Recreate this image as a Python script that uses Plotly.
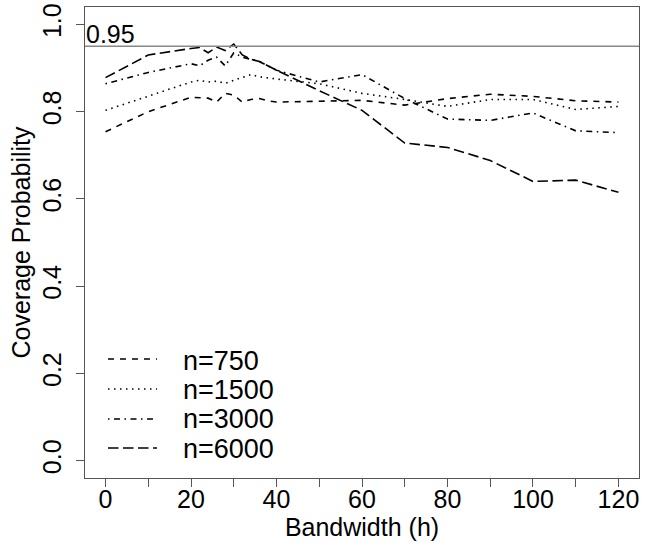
import plotly.graph_objects as go

# ---- data ----
bandwidth = [0, 10, 20, 22, 24, 26, 28, 30, 32, 34, 36, 38, 40, 50, 60, 70, 80, 90, 100, 110, 120]
cov_750 = [0.754, 0.800, 0.833, 0.832, 0.831, 0.822, 0.842, 0.838, 0.822, 0.828, 0.830, 0.825, 0.822,
           0.824, 0.826, 0.815, 0.830, 0.840, 0.835, 0.825, 0.822]
cov_1500 = [0.803, 0.835, 0.868, 0.872, 0.868, 0.870, 0.865, 0.872, 0.878, 0.885, 0.880, 0.878, 0.875,
            0.864, 0.842, 0.828, 0.812, 0.828, 0.828, 0.805, 0.812]
cov_3000 = [0.864, 0.890, 0.910, 0.905, 0.918, 0.925, 0.905, 0.935, 0.925, 0.920, 0.915, 0.905, 0.895,
            0.868, 0.885, 0.830, 0.783, 0.780, 0.797, 0.756, 0.752]
cov_6000 = [0.878, 0.930, 0.945, 0.947, 0.935, 0.948, 0.940, 0.955, 0.930, 0.920, 0.915, 0.905, 0.895,
            0.848, 0.803, 0.728, 0.718, 0.688, 0.640, 0.643, 0.615]
series_names = ["n=750", "n=1500", "n=3000", "n=6000"]
x_ticks = [0, 10, 20, 30, 40, 50, 60, 70, 80, 90, 100, 110, 120]
x_ticktext = ["0", "", "20", "", "40", "", "60", "", "80", "", "100", "", "120"]
y_ticks = [0.0, 0.2, 0.4, 0.6, 0.8, 1.0]
y_ticktext = ["0.0", "0.2", "0.4", "0.6", "0.8", "1.0"]
ref_level = 0.95

series = [cov_750, cov_1500, cov_3000, cov_6000]
dashes = ["6px,6px", "1.5px,4.5px", "1.5px,4.5px,6px,4.5px", "10.5px,4.5px"]

W, H = 647, 543
L, R, T, B = 85, 8, 7, 65
pw, ph = W - L - R, H - T - B
FONT = "Liberation Sans, Arial, sans-serif"
FS = 25
LEG_FS = 27
AX = "#555555"

fig = go.Figure()
for name, ys, d in zip(series_names, series, dashes):
    fig.add_trace(go.Scatter(x=bandwidth, y=ys, mode="lines", name=name, showlegend=False,
                             line=dict(color="black", width=1.6, dash=d)))

# reference line
fig.add_shape(type="line", xref="paper", yref="y", x0=0, x1=1, y0=ref_level, y1=ref_level,
              line=dict(color="#888888", width=1.3))
fig.add_annotation(xref="paper", yref="y", x=0.0, y=ref_level, text="0.95", showarrow=False,
                   xanchor="left", yanchor="bottom", yshift=-4, xshift=-1,
                   font=dict(size=FS, color="black", family=FONT))

# manual legend (pixel positions -> paper coords)
def px_x(p):
    return (p - L) / pw

def px_y(p):
    return (H - B - p) / ph

line_rows = [359, 389, 419, 448]
text_rows = [361, 390, 419, 449]
for name, d, ry, ty in zip(series_names, dashes, line_rows, text_rows):
    fig.add_shape(type="line", xref="paper", yref="paper", x0=px_x(108), x1=px_x(157),
                  y0=px_y(ry), y1=px_y(ry), line=dict(color="black", width=1.6, dash=d))
    fig.add_annotation(xref="paper", yref="paper", x=px_x(181), y=px_y(ty), text=name, showarrow=False,
                       xanchor="left", yanchor="middle", font=dict(size=LEG_FS, color="black", family=FONT))

fig.update_layout(
    width=W, height=H,
    margin=dict(l=L, r=R, t=T, b=B),
    plot_bgcolor="white", paper_bgcolor="white",
    font=dict(family=FONT, size=FS, color="black"),
    xaxis=dict(range=[-4.8, 124.8], tickvals=x_ticks, ticktext=x_ticktext, ticks="outside", ticklen=8,
               tickcolor=AX, showline=True, linecolor=AX, linewidth=1.3, mirror=True, showgrid=False,
               zeroline=False, tickfont=dict(size=FS, family=FONT), automargin=False,
               ticklabelstandoff=-9,
               title=dict(text="Bandwidth (h)", font=dict(size=FS, family=FONT), standoff=6)),
    yaxis=dict(range=[-0.04, 1.04], tickvals=y_ticks, ticktext=y_ticktext, ticks="outside", ticklen=8,
               tickcolor=AX, showline=True, linecolor=AX, linewidth=1.3, mirror=True, showgrid=False,
               zeroline=False, tickangle=-90, tickfont=dict(size=FS, family=FONT), ticklabelstandoff=5,
               automargin=False,
               title=dict(text="Coverage Probability", font=dict(size=FS, family=FONT), standoff=0)),
)

fig.write_html("out.html", post_script="document.body.style.margin='0';",
               config={"displayModeBar": False})
